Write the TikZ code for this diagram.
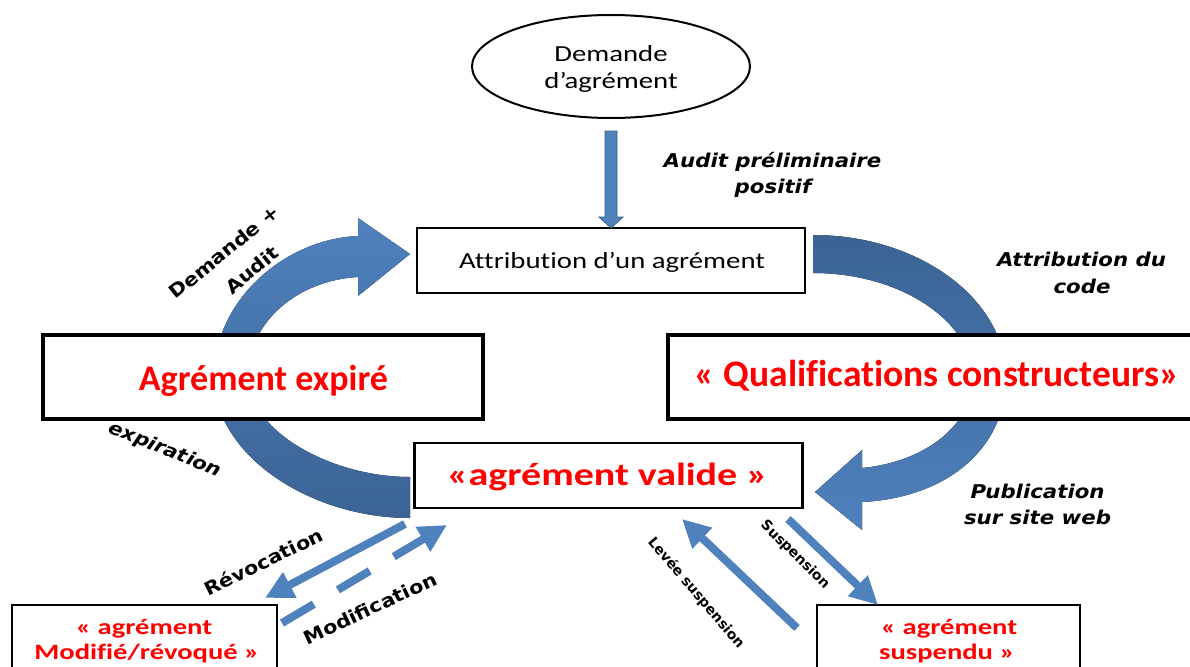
\documentclass[tikz,border=0pt]{standalone}
\usepackage{fontspec}
\usetikzlibrary{arrows.meta,shapes.geometric}
\setmainfont{Carlito}[Ligatures=NoCommon]
\newfontfamily\boxfont[FakeStretch=1.25,Ligatures=NoCommon]{Carlito}
\newfontfamily\tagfont[FakeStretch=1.3,Ligatures=NoCommon]{Carlito}
\newfontfamily\labfont[FakeStretch=1.12]{DejaVu Sans}
\newfontfamily\smalllabfont{DejaVu Sans}
\definecolor{flowblue}{HTML}{4F81BD}
\definecolor{flowdark}{HTML}{3B6395}
\definecolor{flowedge}{HTML}{385D8A}
\definecolor{statered}{HTML}{FF0000}

\begin{document}
\begin{tikzpicture}[x=1pt,y=-1pt,
  every node/.style={inner sep=0pt, outer sep=0pt},
  frame/.style={draw=black, line width=2.2pt, fill=white},
  heavyframe/.style={draw=black, line width=3.2pt, fill=white},
  blacktext/.style={font=\boxfont\fontsize{23}{27}\selectfont, anchor=base},
  bigred/.style={text=statered, font=\bfseries\fontsize{36}{40}\selectfont, anchor=base},
  midred/.style={text=statered, font=\boxfont\bfseries\fontsize{32}{36}\selectfont, anchor=base},
  smallred/.style={text=statered, font=\tagfont\bfseries\fontsize{22}{26}\selectfont, anchor=base},
  note/.style={font=\labfont\bfseries\itshape\fontsize{19}{26}\selectfont, anchor=base},
  tilted/.style={font=\labfont\bfseries\fontsize{18.5}{24}\selectfont},
  tiltedit/.style={font=\labfont\bfseries\itshape\fontsize{18.5}{24}\selectfont},
  smalllab/.style={font=\smalllabfont\bfseries\fontsize{14}{16}\selectfont},
  thin arrow/.style={draw=flowblue, line width=8pt, -{Triangle[length=28pt,width=27pt]}},
  block arrow/.style={fill=flowblue, draw=flowedge, line width=0.8pt},
]
\useasboundingbox (0,0) rectangle (1190,666);
\clip (0,0) rectangle (1190,666);

% curved arrow on the left: expiry, then renewal (Demande + Audit)
\fill[top color=flowblue, bottom color=flowdark]
  (410,518) .. controls (310,518) and (214,455) .. (214,377)
  .. controls (214,300) and (285,239) .. (358,236)
  -- (358,218) -- (410,254) -- (358,296) -- (358,277)
  .. controls (300,280) and (248,320) .. (248,377)
  .. controls (248,430) and (330,477) .. (410,477) -- cycle;

% curved arrow on the right: code attribution, then publication
\fill[top color=flowdark, bottom color=flowblue]
  (813,235) .. controls (920,235) and (1006,300) .. (1006,377)
  .. controls (1006,450) and (945,498) .. (862,502)
  -- (862,530) -- (815,492) -- (862,450) -- (862,468)
  .. controls (925,462) and (973,425) .. (973,377)
  .. controls (973,325) and (905,273) .. (813,273) -- cycle;

% request ellipse
\node[ellipse, draw, line width=2pt, fill=white, minimum width=278pt, minimum height=103pt] (dem) at (611,66.5) {};
\node[blacktext] (demA) at (611,62) {Demande};
\node[blacktext] (demB) at (611,89) {d’agrément};

% state boxes
\node[frame, minimum width=388pt, minimum height=65pt] (attr) at (611,260.5) {};
\node[blacktext] (attrT) at (612,268) {Attribution d’un agrément};

\node[heavyframe, minimum width=440pt, minimum height=84pt] (exp) at (263,377) {};
\node[bigred] (expT) at (263.5,390) {Agrément expiré};

\node[heavyframe, minimum width=540pt, minimum height=84pt] (qual) at (938,377) {};
\node[bigred, font=\bfseries\fontsize{37.5}{40}\selectfont] (qualT) at (937,386) {« Qualifications constructeurs»};

\node[frame, minimum width=388pt, minimum height=65pt] (val) at (608.5,475.5) {};
\node[midred] (valT) at (607.5,485) {«agrément valide »};

\node[frame, minimum width=265pt, minimum height=80pt] (mod) at (144.5,645) {};
\node[smallred] (modA) at (144,634) {« agrément};
\node[smallred] (modB) at (147,659) {Modifié/révoqué »};

\node[frame, minimum width=263pt, minimum height=80pt] (sus) at (948.5,645) {};
\node[smallred] (susA) at (949,634) {« agrément};
\node[smallred] (susB) at (947,659) {suspendu »};

% request -> attribution
\draw[block arrow] (attr.north) -- ++(-12,-11) -- ++(6,0) -- ++(0,-86)
  -- ++(12,0) -- ++(0,86) -- ++(6,0) -- cycle;

% straight transitions
\coordinate (revS) at (405,524);
\coordinate (revE) at (265,598);
\coordinate (modS) at (282,623);
\coordinate (modE) at (447,525);
\coordinate (susS) at (788,519);
\coordinate (susE) at (878,605);
\coordinate (levS) at (797,628);
\coordinate (levE) at (682,519);
\draw[thin arrow] (revS) -- (revE);
\draw[thin arrow, dash pattern=on 37pt off 28pt] (modS) -- (modE);
\draw[thin arrow] (susS) -- (susE);
\draw[thin arrow] (levS) -- (levE);

% transition labels
\node[note] (l1a) at (772.5,167) {Audit préliminaire};
\node[note] (l1b) at (773,193) {positif};
\node[note] (l2a) at (1081.5,266) {Attribution du};
\node[note] (l2b) at (1082,293) {code};
\node[note] (l3a) at (1037.5,498) {Publication};
\node[note] (l3b) at (1037.5,524) {sur site web};
\node[tilted, rotate=39] (l4a) at (224,252) {Demande +};
\node[tilted, rotate=39] (l4b) at (252,270) {Audit};
\node[tiltedit, rotate=-22] (l5) at (165,450) {expiration};
\node[tilted, rotate=26] (l6) at (263.5,561.5) {Révocation};
\node[tilted, rotate=25] (l7) at (370,608.5) {Modification};
\node[smalllab, rotate=-44.6] (l8) at (795,555) {Suspension};
\node[smalllab, rotate=-49.6] (l9) at (696,593) {Levée suspension};
\end{tikzpicture}
\end{document}
